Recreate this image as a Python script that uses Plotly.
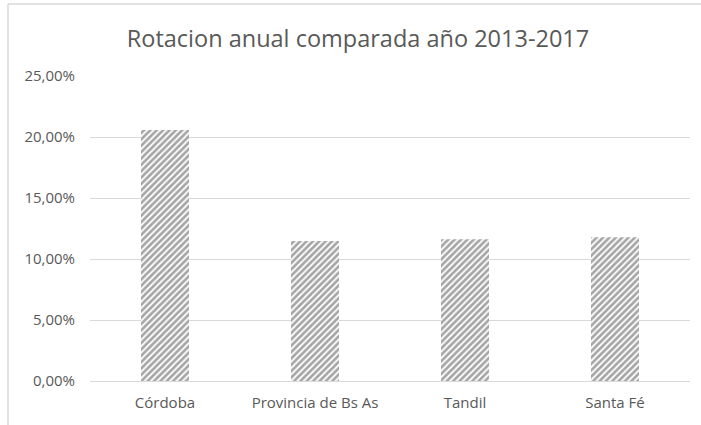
import plotly.graph_objects as go

categories = ["Córdoba", "Provincia de Bs As", "Tandil", "Santa Fé"]
values = [0.2057, 0.1148, 0.1162, 0.1178]
tick_values = [0, 0.05, 0.10, 0.15, 0.20, 0.25]

TEXT = "#595959"
GRID = "#d9d9d9"
FONT = "Open Sans"

fig = go.Figure()
fig.add_trace(go.Bar(
    x=categories,
    y=values,
    marker=dict(
        color="white",
        line=dict(width=0),
        pattern=dict(shape="/", fgcolor="#4a4a4a", bgcolor="white", size=4.5, solidity=0.6),
    ),
    hoverinfo="skip",
))

W, H = 701, 425
ml, mr, mt, mb = 90, 11, 76, 44
pw = W - ml - mr
ph = H - mt - mb

fig.update_layout(
    width=W, height=H,
    margin=dict(l=ml, r=mr, t=mt, b=mb, pad=0, autoexpand=False),
    paper_bgcolor="white", plot_bgcolor="white",
    separators=",.",
    bargap=0.68,
    showlegend=False,
    font=dict(family=FONT, color=TEXT, size=15),
    title=dict(
        text="Rotacion anual comparada año 2013-2017",
        x=358 / W, xanchor="center", xref="container",
        y=1 - 38.5 / H, yanchor="middle", yref="container",
        font=dict(family=FONT, size=23.5, color=TEXT),
        automargin=False,
    ),
    xaxis=dict(
        showgrid=False, showline=True, linecolor=GRID, linewidth=1,
        ticks="", ticklabelstandoff=8, zeroline=False, automargin=False,
        tickfont=dict(family=FONT, size=15, color=TEXT),
    ),
    yaxis=dict(
        range=[0, 0.25], tickvals=tick_values, tickformat=".2%",
        showgrid=True, gridcolor=GRID, gridwidth=1, zeroline=False,
        showline=False, ticks="", ticklabelstandoff=14, automargin=False,
        tickfont=dict(family=FONT, size=15, color=TEXT),
    ),
    shapes=[
        dict(type="line", xref="paper", yref="paper",
             x0=(8 - ml) / pw, x1=(8 - ml) / pw,
             y0=1 + (mt - 4) / ph, y1=-(mb + 5) / ph,
             line=dict(color=GRID, width=1.5)),
        dict(type="line", xref="paper", yref="paper",
             x0=(8 - ml) / pw, x1=1 + (mr + 5) / pw,
             y0=1 + (mt - 4) / ph, y1=1 + (mt - 4) / ph,
             line=dict(color=GRID, width=1.5)),
    ],
)

fig.write_html(
    "out.html",
    config={"displayModeBar": False, "staticPlot": True},
    post_script="document.body.style.margin='0';document.body.style.overflow='hidden';",
)
